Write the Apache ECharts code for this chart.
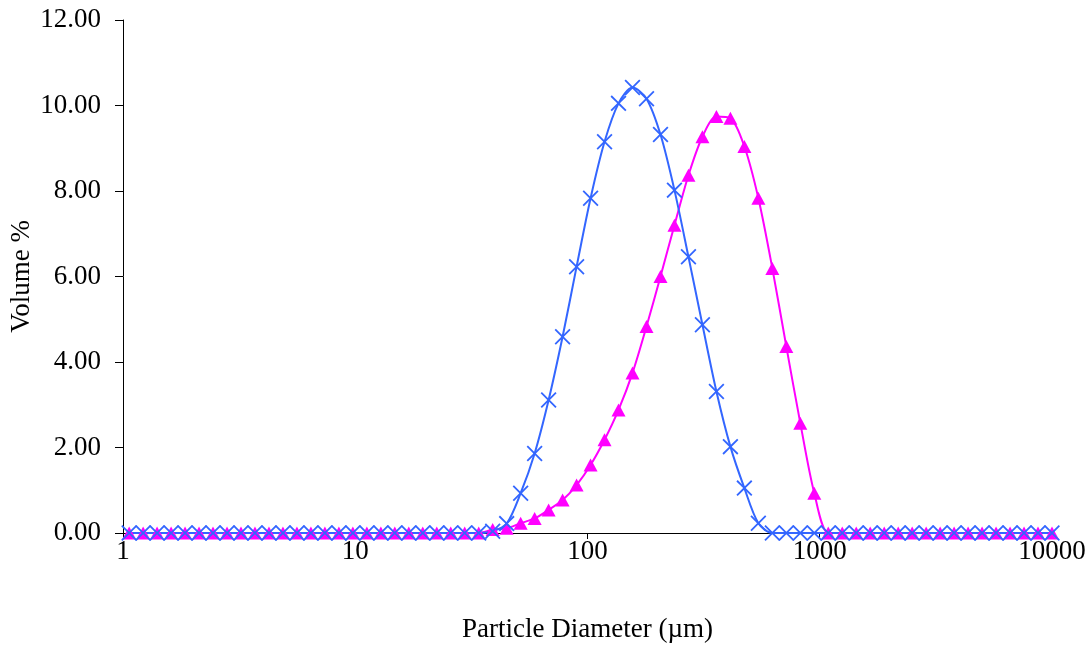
<!DOCTYPE html>
<html lang="en">
<head>
    <meta charset="UTF-8">
    <title>Particle size distribution</title>
    <script src="https://cdn.jsdelivr.net/npm/echarts@6/dist/echarts.min.js"></script>
    <style>
        body { margin: 0; background: #fff; }
        #main { width: 1092px; height: 646px; }
    </style>
</head>
<body>
    <div id="main"></div>
    <script>
        // size classes (um), 2^(1/5) steps
        var sizes = [
            1.063, 1.221, 1.402, 1.611, 1.850,
            2.125, 2.441, 2.805, 3.221, 3.700,
            4.251, 4.883, 5.609, 6.443, 7.401,
            8.502, 9.766, 11.22, 12.89, 14.80,
            17.00, 19.53, 22.44, 25.77, 29.60,
            34.01, 39.06, 44.87, 51.54, 59.21,
            68.01, 78.12, 89.75, 103.1, 118.4,
            136.0, 156.2, 179.5, 206.2, 236.8,
            272.1, 312.5, 359.0, 412.4, 473.7,
            544.1, 625.0, 718.0, 824.7, 947.4,
            1088, 1250, 1436, 1649, 1895,
            2177, 2500, 2872, 3299, 3789,
            4353, 5000, 5744, 6598, 7579,
            8706, 10000
        ];

        // volume % - blue (crosses)
        var blueVals = [
            0, 0, 0, 0, 0,
            0, 0, 0, 0, 0,
            0, 0, 0, 0, 0,
            0, 0, 0, 0, 0,
            0, 0, 0, 0, 0,
            0, 0.04, 0.22, 0.93, 1.86,
            3.11, 4.59, 6.23, 7.83, 9.15,
            10.05, 10.42, 10.16, 9.32, 8.02,
            6.46, 4.87, 3.31, 2.02, 1.05,
            0.23, 0, 0, 0, 0,
            0, 0, 0, 0, 0,
            0, 0, 0, 0, 0,
            0, 0, 0, 0, 0,
            0, 0
        ];

        // volume % - magenta (triangles)
        var pinkVals = [
            0, 0, 0, 0, 0,
            0, 0, 0, 0, 0,
            0, 0, 0, 0, 0,
            0, 0, 0, 0, 0,
            0, 0, 0, 0, 0,
            0, 0.08, 0.11, 0.23, 0.34,
            0.54, 0.77, 1.12, 1.59, 2.18,
            2.88, 3.74, 4.83, 6.00, 7.20,
            8.37, 9.27, 9.74, 9.70, 9.04,
            7.83, 6.19, 4.36, 2.57, 0.93,
            0, 0, 0, 0, 0,
            0, 0, 0, 0, 0,
            0, 0, 0, 0, 0,
            0, 0
        ];

        var yTicks = [0, 2, 4, 6, 8, 10, 12];

        function pairs(vals) {
            var out = [];
            for (var i = 0; i < sizes.length; i++) {
                out.push([sizes[i], vals[i]]);
            }
            return out;
        }

        var font = 'Liberation Serif';
        var fs = 27;
        var blue = '#3366ff';
        var pink = '#ff00ff';
        // X marker drawn as filled polygon
        var crossPath = 'path://M0,0.8L0.8,0L5,4.2L9.2,0L10,0.8L5.8,5L10,9.2L9.2,10L5,5.8L0.8,10L0,9.2L4.2,5Z';

        var myChart = echarts.init(document.getElementById('main'));

        var option = {
            animation: false,
            backgroundColor: '#fff',
            grid: { left: 123, right: 40, top: 20, bottom: 113, containLabel: false, outerBoundsMode: 'none' },
            xAxis: {
                type: 'log',
                logBase: 10,
                min: 1,
                max: 10000,
                name: 'Particle Diameter (µm)',
                nameLocation: 'middle',
                nameGap: 83,
                nameMoveOverlap: false,
                nameTextStyle: { fontFamily: font, fontSize: fs, color: '#000' },
                axisLine: { onZero: false, lineStyle: { color: '#000', width: 1 } },
                axisTick: { show: true, inside: false, length: 6, lineStyle: { color: '#000' } },
                minorTick: { show: false },
                splitLine: { show: false },
                axisLabel: {
                    margin: 5,
                    fontFamily: font,
                    fontSize: fs,
                    color: '#000',
                    formatter: function (v) { return String(Math.round(v)); }
                }
            },
            yAxis: {
                type: 'value',
                min: yTicks[0],
                max: yTicks[yTicks.length - 1],
                interval: 2,
                name: 'Volume %',
                nameLocation: 'middle',
                nameGap: 88,
                nameMoveOverlap: false,
                nameTextStyle: { fontFamily: font, fontSize: fs, color: '#000' },
                axisLine: { show: true, lineStyle: { color: '#000', width: 1 } },
                axisTick: { show: true, inside: false, length: 8, lineStyle: { color: '#000' } },
                splitLine: { show: false },
                axisLabel: {
                    margin: 22,
                    fontFamily: font,
                    fontSize: fs,
                    color: '#000',
                    formatter: function (v) { return v.toFixed(2); }
                }
            },
            series: [
                {
                    name: 'magenta',
                    type: 'line',
                    data: pairs(pinkVals),
                    smooth: 0.3,
                    clip: false,
                    symbol: 'triangle',
                    symbolSize: [14, 13],
                    showAllSymbol: true,
                    lineStyle: { color: pink, width: 2 },
                    itemStyle: { color: pink }
                },
                {
                    name: 'blue',
                    type: 'line',
                    data: pairs(blueVals),
                    smooth: 0.3,
                    clip: false,
                    symbol: crossPath,
                    symbolSize: 16,
                    showAllSymbol: true,
                    lineStyle: { color: blue, width: 2 },
                    itemStyle: { color: blue }
                }
            ]
        };

        myChart.setOption(option);
    </script>
</body>
</html>
